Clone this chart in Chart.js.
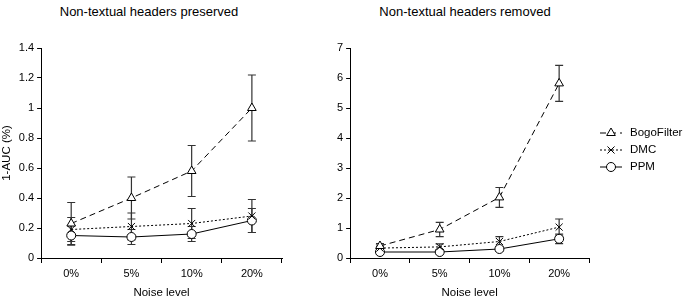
<!DOCTYPE html>
<html>
<head>
<meta charset="utf-8">
<script src="https://cdn.jsdelivr.net/npm/chart.js@4.4.1/dist/chart.umd.min.js"></script>
<style>
  body { margin: 0; background: #fff; width: 686px; height: 300px; position: relative; overflow: hidden; font-family: "Liberation Sans", Arial, sans-serif; }
  canvas { position: absolute; top: 0; }
  .title { position: absolute; top: 4px; font-size: 13px; color: #000; transform: translateX(-50%); white-space: nowrap; }
</style>
</head>
<body>
<div class="title" style="left:149px">Non-textual headers preserved</div>
<div class="title" style="left:465px">Non-textual headers removed</div>
<canvas id="leftChart" style="left:0px" width="330" height="300"></canvas>
<canvas id="rightChart" style="left:330px" width="356" height="300"></canvas>
<script>
const categories = ['0%', '5%', '10%', '20%'];
const seriesNames = ['BogoFilter', 'DMC', 'PPM'];

// headers preserved
const keptBogo = [0.23, 0.40, 0.58, 1.00];
const keptBogoErr = [0.14, 0.14, 0.17, 0.22];
const keptDmc = [0.19, 0.21, 0.23, 0.28];
const keptDmcErr = [0.08, 0.09, 0.10, 0.11];
const keptPpm = [0.15, 0.14, 0.16, 0.25];
const keptPpmErr = [0.065, 0.05, 0.05, 0.08];

// headers removed
const goneBogo = [0.40, 0.95, 2.02, 5.82];
const goneBogoErr = [0.08, 0.24, 0.33, 0.60];
const goneDmc = [0.33, 0.37, 0.55, 1.03];
const goneDmcErr = [0.06, 0.10, 0.16, 0.27];
const gonePpm = [0.20, 0.20, 0.30, 0.64];
const gonePpmErr = [0.04, 0.04, 0.06, 0.16];

const font = { family: '"Liberation Sans", Arial, sans-serif', size: 11 };
Chart.defaults.color = '#000';
Chart.defaults.font = font;

const styles = [
  { pointStyle: 'triangle', borderDash: [6, 4], radius: 5 },
  { pointStyle: 'crossRot', borderDash: [2, 2], radius: 5 },
  { pointStyle: 'circle', borderDash: [], radius: 4.5 }
];

function makeDatasets(values, errs) {
  return values.map((v, i) => ({
    label: seriesNames[i],
    data: v,
    errors: errs[i],
    borderColor: '#000',
    borderWidth: 1,
    borderDash: styles[i].borderDash,
    pointStyle: styles[i].pointStyle,
    pointRadius: styles[i].radius,
    pointBackgroundColor: '#fff',
    pointBorderColor: '#000',
    pointBorderWidth: 1,
    tension: 0
  }));
}

// error bars, drawn under the markers
const errorBars = {
  id: 'errorBars',
  beforeDatasetsDraw(chart) {
    const ctx = chart.ctx;
    const x = chart.scales.x, y = chart.scales.y;
    ctx.save();
    ctx.strokeStyle = '#333';
    ctx.lineWidth = 1.2;
    chart.data.datasets.forEach(ds => {
      ds.data.forEach((v, i) => {
        const e = ds.errors[i];
        const px = x.getPixelForValue(i);
        const top = y.getPixelForValue(v + e);
        const bot = y.getPixelForValue(Math.max(0, v - e));
        ctx.beginPath();
        ctx.moveTo(px, top); ctx.lineTo(px, bot);
        ctx.moveTo(px - 4, top); ctx.lineTo(px + 4, top);
        ctx.moveTo(px - 4, bot); ctx.lineTo(px + 4, bot);
        ctx.stroke();
      });
    });
    ctx.restore();
  }
};

// legend with line sample and marker
const lineLegend = {
  id: 'lineLegend',
  afterDraw(chart) {
    const ctx = chart.ctx;
    const x0 = chart.chartArea.right + 11;
    ctx.save();
    chart.data.datasets.forEach((ds, i) => {
      const yy = 133 + i * 17;
      ctx.strokeStyle = '#000';
      ctx.lineWidth = 1;
      ctx.setLineDash(ds.borderDash);
      ctx.beginPath();
      ctx.moveTo(x0, yy); ctx.lineTo(x0 + 22, yy);
      ctx.stroke();
      ctx.setLineDash([]);
      ctx.fillStyle = '#fff';
      Chart.helpers.drawPoint(ctx, { pointStyle: ds.pointStyle, radius: ds.pointRadius, rotation: 0, borderWidth: 1 }, x0 + 11, yy);
      ctx.fillStyle = '#000';
      ctx.font = '11.5px "Liberation Sans", Arial, sans-serif';
      ctx.textBaseline = 'middle';
      ctx.fillText(ds.label, x0 + 30, yy);
    });
    ctx.restore();
  }
};

function makeOptions(yMax, yStep, showYTitle, pad) {
  const titleFont = { family: font.family, size: 11.5 };
  return {
    responsive: false,
    animation: false,
    layout: { padding: pad },
    plugins: { legend: { display: false }, tooltip: { enabled: false } },
    scales: {
      x: {
        offset: true,
        grid: { offset: true, drawOnChartArea: false, color: '#000', tickLength: 5 },
        border: { color: '#000' },
        ticks: { padding: 4 },
        title: { display: true, text: 'Noise level', font: titleFont, padding: { top: 2, bottom: 0 } }
      },
      y: {
        min: 0, max: yMax,
        ticks: { stepSize: yStep, padding: 3, callback: v => String(Number(v.toFixed(2))) },
        grid: { drawOnChartArea: false, color: '#000', tickLength: 4 },
        border: { color: '#000' },
        title: { display: showYTitle, text: '1-AUC (%)', font: titleFont, padding: { top: 0, bottom: 2 } }
      }
    }
  };
}

new Chart(document.getElementById('leftChart'), {
  type: 'line',
  data: { labels: categories, datasets: makeDatasets([keptBogo, keptDmc, keptPpm], [keptBogoErr, keptDmcErr, keptPpmErr]) },
  options: makeOptions(1.4, 0.2, true, { top: 48, right: 48, left: 0, bottom: 0 }),
  plugins: [errorBars]
});

new Chart(document.getElementById('rightChart'), {
  type: 'line',
  data: { labels: categories, datasets: makeDatasets([goneBogo, goneDmc, gonePpm], [goneBogoErr, goneDmcErr, gonePpmErr]) },
  options: makeOptions(7, 1, false, { top: 48, right: 97, left: 4, bottom: 0 }),
  plugins: [errorBars, lineLegend]
});
</script>
</body>
</html>
